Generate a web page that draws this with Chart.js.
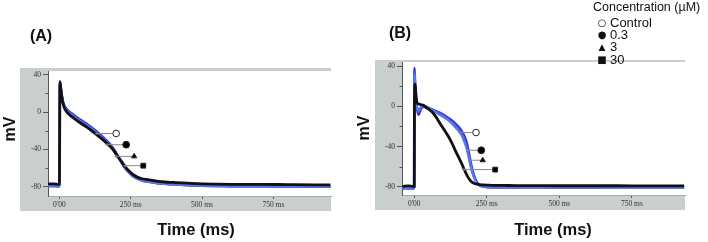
<!DOCTYPE html>
<html><head><meta charset="utf-8">
<script src="https://cdn.jsdelivr.net/npm/chart.js@4/dist/chart.umd.min.js"></script>
<style>
html,body{margin:0;padding:0;background:#fff;}
#wrap{position:relative;width:708px;height:242px;overflow:hidden;background:#fff;font-family:"Liberation Sans",Arial,sans-serif;color:#111;}
canvas{position:absolute;top:0;}
.t{position:absolute;white-space:nowrap;line-height:1;}
.c{transform:translate(-50%,-50%);}
.r{transform:translate(-50%,-50%) rotate(-90deg);}
.b{font-weight:bold;}
.sym{position:absolute;transform:translate(-50%,-50%);font-family:"DejaVu Sans",sans-serif;line-height:1;}
</style></head>
<body>
<div id="wrap">
<canvas id="cA" width="354" height="242" style="left:0"></canvas>
<canvas id="cB" width="354" height="242" style="left:354px"></canvas>
<div class="t b c" style="left:41px;top:36px;font-size:16px">(A)</div>
<div class="t b c" style="left:400px;top:33px;font-size:16px">(B)</div>
<div class="t b r" style="left:10px;top:129px;font-size:16px">mV</div>
<div class="t b r" style="left:364px;top:128px;font-size:16px">mV</div>
<div class="t b c" style="left:196px;top:229px;font-size:16.5px">Time (ms)</div>
<div class="t b c" style="left:553px;top:229px;font-size:16.5px">Time (ms)</div>
<div id="legend"></div>
</div>
<script>
// ---------- DATA ----------
const legendTitle = "Concentration (µM)";
const seriesNames = ["Control", "0.3", "3", "30"];
const seriesSymbols = ["○", "●", "▲", "■"];

const xTickValues = [0, 250, 500, 750];
const xTickLabels = ["0'00", "250 ms", "500 ms", "750 ms"];
const yTickValues = [-80, -60, -40, -20, 0, 20, 40];
const yTickLabels = ["-80", "", "-40", "", "0", "", "40"];

// Panel A
const timeA = [-40, -20, -3, 0, 2, 6, 12, 18, 25, 35, 50, 75, 100, 125, 150, 175, 190, 200, 215, 230, 245, 260, 275, 290, 310, 340, 370, 400, 450, 500, 600, 700, 800, 900, 950];
const A_control = [-79, -79, -79.5, -79, 33, 23, 12, 6.5, 3.5, 0.5, -3, -8.5, -13.5, -19.5, -26, -33.5, -39.5, -44.5, -52, -59.5, -65, -69, -71.5, -73.5, -74.5, -76, -77, -77.5, -78.3, -79, -79.5, -79.7, -79.8, -80, -80];
const A_c03 = [-79.5, -79.5, -79.5, -79.5, 30, 21, 11, 5.5, 2.5, -0.5, -4, -9.5, -14.5, -20.5, -27, -34.5, -40.5, -45.5, -52.5, -60, -65, -69, -71.5, -73.5, -74.5, -76, -77, -77.5, -78.5, -79, -79.5, -79.7, -80, -80, -80];
const A_c3 = [-79, -79, -79, -79, 31, 22, 10.5, 5, 2, -1.5, -5, -10.5, -15.5, -21.5, -28, -35, -41, -46, -53, -60, -65.5, -69.5, -72, -73.5, -74.5, -76, -76.8, -77.5, -78.3, -78.8, -79.2, -79.5, -79.5, -79.7, -79.7];
const A_c30 = [-77, -77, -77.5, -77, 32, 22, 10, 4, 0.5, -3, -6.5, -12, -17, -23, -29, -36, -41, -45.5, -52, -58.5, -63.5, -67.5, -70, -71.5, -72.5, -74, -75, -75.5, -76.3, -77, -77.5, -77.5, -77.8, -78, -78];
const A_markX = [199, 234, 262, 294];
const A_markY = [-23, -35, -47.5, -57.5];
const A_tipX = [131, 166, 199, 230];

// Panel B
const timeB = [-40, -20, -3, 0, 1, 3, 6, 10, 15, 20, 25, 32, 40, 50, 61, 75, 89, 104, 118, 130, 141, 152, 164, 172, 181, 187, 193, 198, 204, 210, 218, 227, 238, 250, 275, 300, 350, 400, 500, 600, 700, 800, 900, 930];
const B_control = [-81, -81.5, -81, -81, 38, 25, 8, -3, -8.5, -5, -2, -0.5, -0.5, -1.5, -3, -4.8, -6.5, -9, -11.5, -14, -17, -20, -24.5, -29, -36, -44, -53, -60, -66.5, -71.5, -76, -78.5, -79.5, -80, -80.3, -80.3, -80.5, -80.5, -80.5, -80.6, -80.6, -80.7, -80.7, -80.7];
const B_c03 = [-81.5, -81, -81.5, -81.5, 35, 22, 6, -2, -6, -3, -1, 0, -0.5, -2, -3.5, -5.5, -7.5, -10, -12.5, -15.5, -18.5, -22, -27, -32, -40, -47, -55.5, -62, -68, -72.5, -76.5, -78.5, -79.5, -80, -80.3, -80.5, -80.5, -80.6, -80.6, -80.7, -80.7, -80.8, -80.8, -80.8];
const B_c3 = [-81, -81, -81, -81, 32, 20, 5, -1, -4, -2, -0.5, 0.5, 0, -1.8, -3.8, -6, -8.5, -11, -14, -17, -20.5, -24, -29, -34.5, -42, -49.5, -57.5, -63.5, -69, -73, -77, -79, -79.8, -80.2, -80.4, -80.5, -80.6, -80.6, -80.7, -80.7, -80.8, -80.8, -80.8, -80.8];
const B_c30 = [-79.5, -79, -79.5, -79.5, 10, 22, 12, 3.5, 2.5, 2, 1.5, 1, -1, -2.8, -5.4, -10.5, -17, -23.5, -30, -36.5, -43.4, -50, -57, -62.5, -68, -71, -73.5, -75, -76, -76.8, -77.3, -77.8, -78, -78.2, -78.5, -78.5, -78.6, -78.6, -78.8, -78.8, -78.8, -79, -79, -79];
const B_markX = [213, 231, 236, 279];
const B_markY = [-26, -43.6, -53.5, -62.8];
const B_tipX = [162, 187, 193, 170];

// ---------- STYLE ----------
const traceColors = ["#2a2ad8", "#3f57e2", "#5a78ea", "#111111"];
const markFill = ["#ffffff", "#000000", "#000000", "#000000"];
const markStyle = ["circle", "circle", "triangle", "rect"];
const markRadius = [3.3, 3.4, 3.0, 3.4];

const bgPlugin = {
  id: 'bgFrame',
  beforeDraw(chart, args, o) {
    const {ctx, chartArea: a} = chart;
    ctx.save();
    ctx.fillStyle = '#ffffff';
    ctx.fillRect(0, 0, chart.width, chart.height);
    ctx.fillStyle = '#c9cfcf';
    const l = a.left - o.padL, t = a.top - o.padT;
    ctx.fillRect(l, t, a.right - l, a.bottom + o.padB - t);
    ctx.fillStyle = '#ffffff';
    ctx.fillRect(a.left, a.top, a.right - a.left, a.bottom - a.top);
    ctx.restore();
  },
  afterDraw(chart) {
    const {ctx, chartArea: a, scales} = chart;
    const y = scales.y;
    ctx.save();
    ctx.strokeStyle = '#555';
    ctx.lineWidth = 1;
    yTickValues.forEach(v => {
      if (v % 40 !== 0) {
        const py = Math.round(y.getPixelForValue(v)) + 0.5;
        ctx.beginPath(); ctx.moveTo(a.left - 2.5, py); ctx.lineTo(a.left, py); ctx.stroke();
      }
    });
    ctx.restore();
  }
};

function pts(t, v) { return t.map((x, i) => ({x: x, y: v[i]})); }

function makePanel(id, time, seriesVals, markX, markY, tipX, geo) {
  const datasets = [];
  seriesVals.forEach((vals, i) => {
    datasets.push({
      label: seriesNames[i],
      data: pts(time, vals),
      borderColor: traceColors[i],
      borderWidth: i === 3 ? 2.8 : 2.4,
      pointRadius: 0,
      cubicInterpolationMode: 'monotone',
      fill: false,
      order: i === 3 ? 1 : 2 + (2 - i)
    });
  });
  markX.forEach((mx, i) => {
    datasets.push({
      label: 'arrow ' + seriesNames[i],
      data: [{x: tipX[i], y: markY[i]}, {x: mx, y: markY[i]}],
      borderColor: '#8a8a8a',
      borderWidth: 1,
      tension: 0,
      pointStyle: ['triangle', markStyle[i]],
      pointRotation: [-90, 0],
      pointRadius: [2, markRadius[i]],
      pointBorderWidth: [0, 1],
      pointBackgroundColor: ['#7a7a7a', markFill[i]],
      pointBorderColor: ['#7a7a7a', '#222'],
      order: 0
    });
  });
  return new Chart(document.getElementById(id), {
    type: 'line',
    data: {datasets},
    plugins: [bgPlugin],
    options: {
      responsive: false,
      animation: false,
      devicePixelRatio: 1,
      layout: {padding: geo.padding},
      plugins: {legend: {display: false}, tooltip: {enabled: false}, title: {display: false},
        bgFrame: geo.frame},
      scales: {
        x: {
          type: 'linear', min: geo.xmin, max: geo.xmax,
          afterBuildTicks: s => { s.ticks = xTickValues.map(v => ({value: v})); },
          afterFit: s => { s.height = 15; },
          ticks: {
            callback: (v) => { const k = xTickValues.indexOf(v); return k >= 0 ? xTickLabels[k] : ''; },
            font: {family: '"Liberation Serif", "DejaVu Serif", serif', size: 7.5},
            color: '#333', padding: 2, maxRotation: 0, autoSkip: false
          },
          grid: {drawOnChartArea: false, drawTicks: true, tickLength: 3, color: '#555'},
          border: {color: '#a8a8a8', width: 1}
        },
        y: {
          type: 'linear', min: geo.ymin, max: geo.ymax,
          afterBuildTicks: s => { s.ticks = yTickValues.map(v => ({value: v})); },
          afterFit: s => { s.width = 28; },
          ticks: {
            callback: (v) => { const k = yTickValues.indexOf(v); return k >= 0 ? yTickLabels[k] : ''; },
            font: {family: '"Liberation Serif", "DejaVu Serif", serif', size: 7.5},
            color: '#333', padding: 2, autoSkip: false
          },
          grid: {drawOnChartArea: false, drawTicks: true, tickLength: 5,
            color: ctx => (ctx.tick && ctx.tick.value % 40 !== 0) ? 'rgba(0,0,0,0)' : '#555'},
          border: {color: '#555', width: 1}
        }
      }
    }
  });
}

makePanel('cA', timeA, [A_control, A_c03, A_c3, A_c30], A_markX, A_markY, A_tipX, {
  padding: {left: 20, right: 23, top: 71, bottom: 31},
  frame: {padL: 28, padT: 3, padB: 15},
  xmin: -40, xmax: 952, ymin: -90, ymax: 44
});
makePanel('cB', timeB, [B_control, B_c03, B_c3, B_c30], B_markX, B_markY, B_tipX, {
  padding: {left: 20, right: 23, top: 62, bottom: 32},
  frame: {padL: 27, padT: 2, padB: 15},
  xmin: -42, xmax: 933, ymin: -88, ymax: 44
});

// Legend (HTML text)
const lg = document.getElementById('legend');
const title = document.createElement('div');
title.className = 't';
title.style.cssText = 'left:593px;top:1px;font-size:12.5px;';
title.textContent = legendTitle;
lg.appendChild(title);
const rowY = [23, 35, 47, 60];
const symSize = [10, 10, 9, 10];
seriesNames.forEach((n, i) => {
  const s = document.createElement('div');
  s.className = 'sym';
  s.style.cssText = `left:602px;top:${rowY[i]}px;font-size:${symSize[i]}px;`;
  s.textContent = seriesSymbols[i];
  lg.appendChild(s);
  const d = document.createElement('div');
  d.className = 't';
  d.style.cssText = `left:610px;top:${rowY[i] - 7}px;font-size:13px;`;
  d.textContent = n;
  lg.appendChild(d);
});
</script>
</body></html>
